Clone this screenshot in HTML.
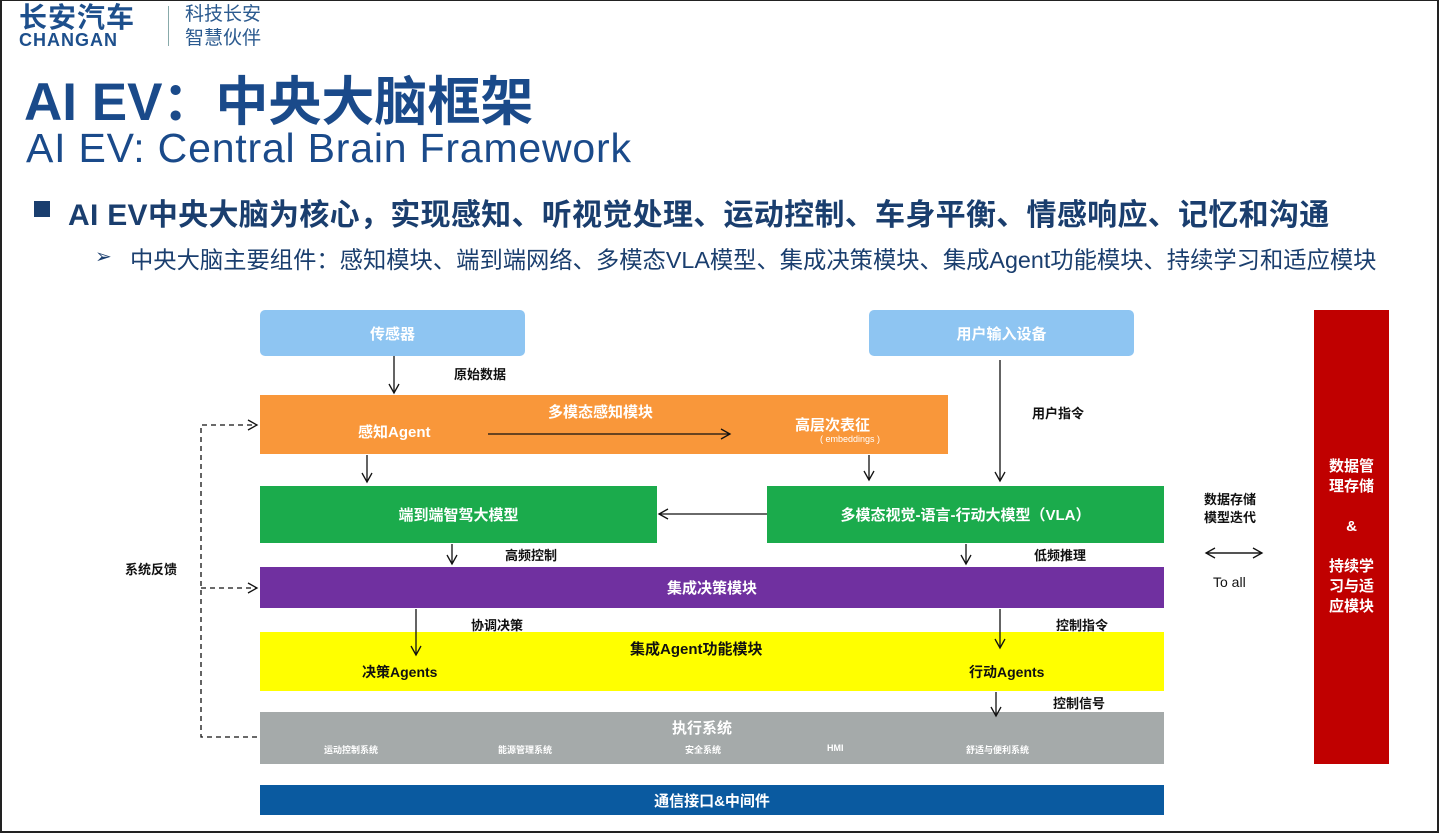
<!DOCTYPE html>
<html><head><meta charset="utf-8"><style>
*{margin:0;padding:0;box-sizing:border-box}
body{width:1439px;height:833px;background:#fff;position:relative;overflow:hidden;font-family:"Liberation Sans","Noto Sans CJK SC",sans-serif}
.a{position:absolute;white-space:nowrap}
.box{position:absolute;color:#fff;font-weight:bold;font-size:15px;display:flex;align-items:center;justify-content:center}
.t{position:absolute;font-weight:bold;font-size:13px;color:#111;white-space:nowrap}
.w{position:absolute;color:#fff;font-weight:bold;white-space:nowrap}
.r{position:absolute;left:1314px;width:75px;text-align:center;color:#fff;font-weight:bold;font-size:15px;line-height:20px}
</style></head><body>
<div class="a" style="left:0;top:0;width:1439px;height:833px;border:2px solid #222;border-top:1px solid #222"></div>
<div class="a" style="left:19px;top:3px;font-size:28px;line-height:30px;font-weight:bold;color:#1d4f8c;letter-spacing:1px">长安汽车</div>
<div class="a" style="left:19px;top:31px;font-size:18px;line-height:18px;font-weight:bold;color:#1d4f8c;letter-spacing:1px">CHANGAN</div>
<div class="a" style="left:168px;top:6px;width:1px;height:40px;background:#8aa"></div>
<div class="a" style="left:185px;top:3px;font-size:19px;color:#2b5a8f;line-height:24px">科技长安<br>智慧伙伴</div>
<div class="a" style="left:24px;top:60px;font-size:53px;font-weight:bold;color:#1a4a8a">AI EV：中央大脑框架</div>
<div class="a" style="left:26px;top:125px;font-size:41px;color:#1a4a8a;letter-spacing:0.8px">AI EV: Central Brain Framework</div>
<div class="a" style="left:34px;top:201px;width:16px;height:16px;background:#1a3e6e"></div>
<div class="a" style="left:68px;top:190px;font-size:30px;font-weight:bold;color:#1a3e6e;letter-spacing:0.3px">AI EV中央大脑为核心，实现感知、听视觉处理、运动控制、车身平衡、情感响应、记忆和沟通</div>
<div class="a" style="left:95px;top:244px;font-size:20px;color:#1a3e6e">➢</div>
<div class="a" style="left:130px;top:241px;font-size:23.3px;color:#1a3e6e">中央大脑主要组件：感知模块、端到端网络、多模态VLA模型、集成决策模块、集成Agent功能模块、持续学习和适应模块</div>

<div class="box" style="left:260px;top:310px;width:265px;height:46px;background:#8ec5f2;border-radius:5px">传感器</div>
<div class="box" style="left:869px;top:310px;width:265px;height:46px;background:#8ec5f2;border-radius:5px">用户输入设备</div>
<div class="box" style="left:260px;top:395px;width:688px;height:59px;background:#f9973a"></div>
<div class="w" style="left:358px;top:421px;font-size:15px">感知Agent</div>
<div class="w" style="left:548px;top:401px;font-size:15px">多模态感知模块</div>
<div class="w" style="left:795px;top:414px;font-size:15px">高层次表征</div>
<div class="w" style="left:820px;top:434px;font-size:9px;font-weight:normal">( embeddings )</div>
<div class="box" style="left:260px;top:486px;width:397px;height:57px;background:#1bab4c">端到端智驾大模型</div>
<div class="box" style="left:767px;top:486px;width:397px;height:57px;background:#1bab4c">多模态视觉-语言-行动大模型（VLA）</div>
<div class="box" style="left:260px;top:567px;width:904px;height:41px;background:#7030a0">集成决策模块</div>
<div class="box" style="left:260px;top:632px;width:904px;height:59px;background:#ffff00"></div>
<div class="t" style="left:630px;top:638px;font-size:15px">集成Agent功能模块</div>
<div class="t" style="left:362px;top:662px;font-size:14px">决策Agents</div>
<div class="t" style="left:969px;top:662px;font-size:14px">行动Agents</div>
<div class="box" style="left:260px;top:712px;width:904px;height:52px;background:#a5aaaa"></div>
<div class="w" style="left:672px;top:717px;font-size:15px">执行系统</div>
<div class="w" style="left:324px;top:743px;font-size:9px">运动控制系统</div>
<div class="w" style="left:498px;top:743px;font-size:9px">能源管理系统</div>
<div class="w" style="left:685px;top:743px;font-size:9px">安全系统</div>
<div class="w" style="left:827px;top:743px;font-size:9px">HMI</div>
<div class="w" style="left:966px;top:743px;font-size:9px">舒适与便利系统</div>
<div class="box" style="left:260px;top:785px;width:904px;height:30px;background:#0a5aa0">通信接口&amp;中间件</div>
<div class="a" style="left:1314px;top:310px;width:75px;height:454px;background:#c00000"></div>
<div class="r" style="top:457px">数据管<br>理存储</div>
<div class="r" style="top:517px">&amp;</div>
<div class="r" style="top:557px">持续学<br>习与适<br>应模块</div>

<div class="t" style="left:454px;top:364px">原始数据</div>
<div class="t" style="left:1032px;top:403px">用户指令</div>
<div class="t" style="left:505px;top:545px">高频控制</div>
<div class="t" style="left:1034px;top:545px">低频推理</div>
<div class="t" style="left:471px;top:615px">协调决策</div>
<div class="t" style="left:1056px;top:615px">控制指令</div>
<div class="t" style="left:1053px;top:693px">控制信号</div>
<div class="t" style="left:125px;top:559px">系统反馈</div>
<div class="t" style="left:1204px;top:491px;line-height:18px;text-align:center">数据存储<br>模型迭代</div>
<div class="t" style="left:1213px;top:574px;font-size:14px;font-weight:normal">To all</div>

<svg class="a" style="left:0;top:0" width="1439" height="833">
<defs><marker id="m" markerWidth="12" markerHeight="12" refX="10" refY="6" orient="auto" markerUnits="userSpaceOnUse"><path d="M1,1 L10,6 L1,11" fill="none" stroke="#111" stroke-width="1.3"/></marker></defs>
<g stroke="#111" stroke-width="1.3" fill="none">
<line x1="394" y1="356" x2="394" y2="393" marker-end="url(#m)"/>
<line x1="1000" y1="360" x2="1000" y2="481" marker-end="url(#m)"/>
<line x1="488" y1="434" x2="730" y2="434" marker-end="url(#m)"/>
<line x1="367" y1="455" x2="367" y2="482" marker-end="url(#m)"/>
<line x1="869" y1="455" x2="869" y2="480" marker-end="url(#m)"/>
<line x1="767" y1="514" x2="659" y2="514" marker-end="url(#m)"/>
<line x1="452" y1="544" x2="452" y2="564" marker-end="url(#m)"/>
<line x1="966" y1="544" x2="966" y2="564" marker-end="url(#m)"/>
<line x1="416" y1="609" x2="416" y2="655" marker-end="url(#m)"/>
<line x1="1000" y1="609" x2="1000" y2="648" marker-end="url(#m)"/>
<line x1="996" y1="692" x2="996" y2="716" marker-end="url(#m)"/>
<line x1="1206" y1="553" x2="1262" y2="553" marker-end="url(#m)"/>
<line x1="1262" y1="553" x2="1206" y2="553" marker-end="url(#m)"/>
<g stroke-dasharray="5,4">
<polyline points="257,737 201,737 201,425 257,425" marker-end="url(#m)"/>
<line x1="201" y1="588" x2="257" y2="588" marker-end="url(#m)"/>
</g>
</g></svg>
</body></html>
